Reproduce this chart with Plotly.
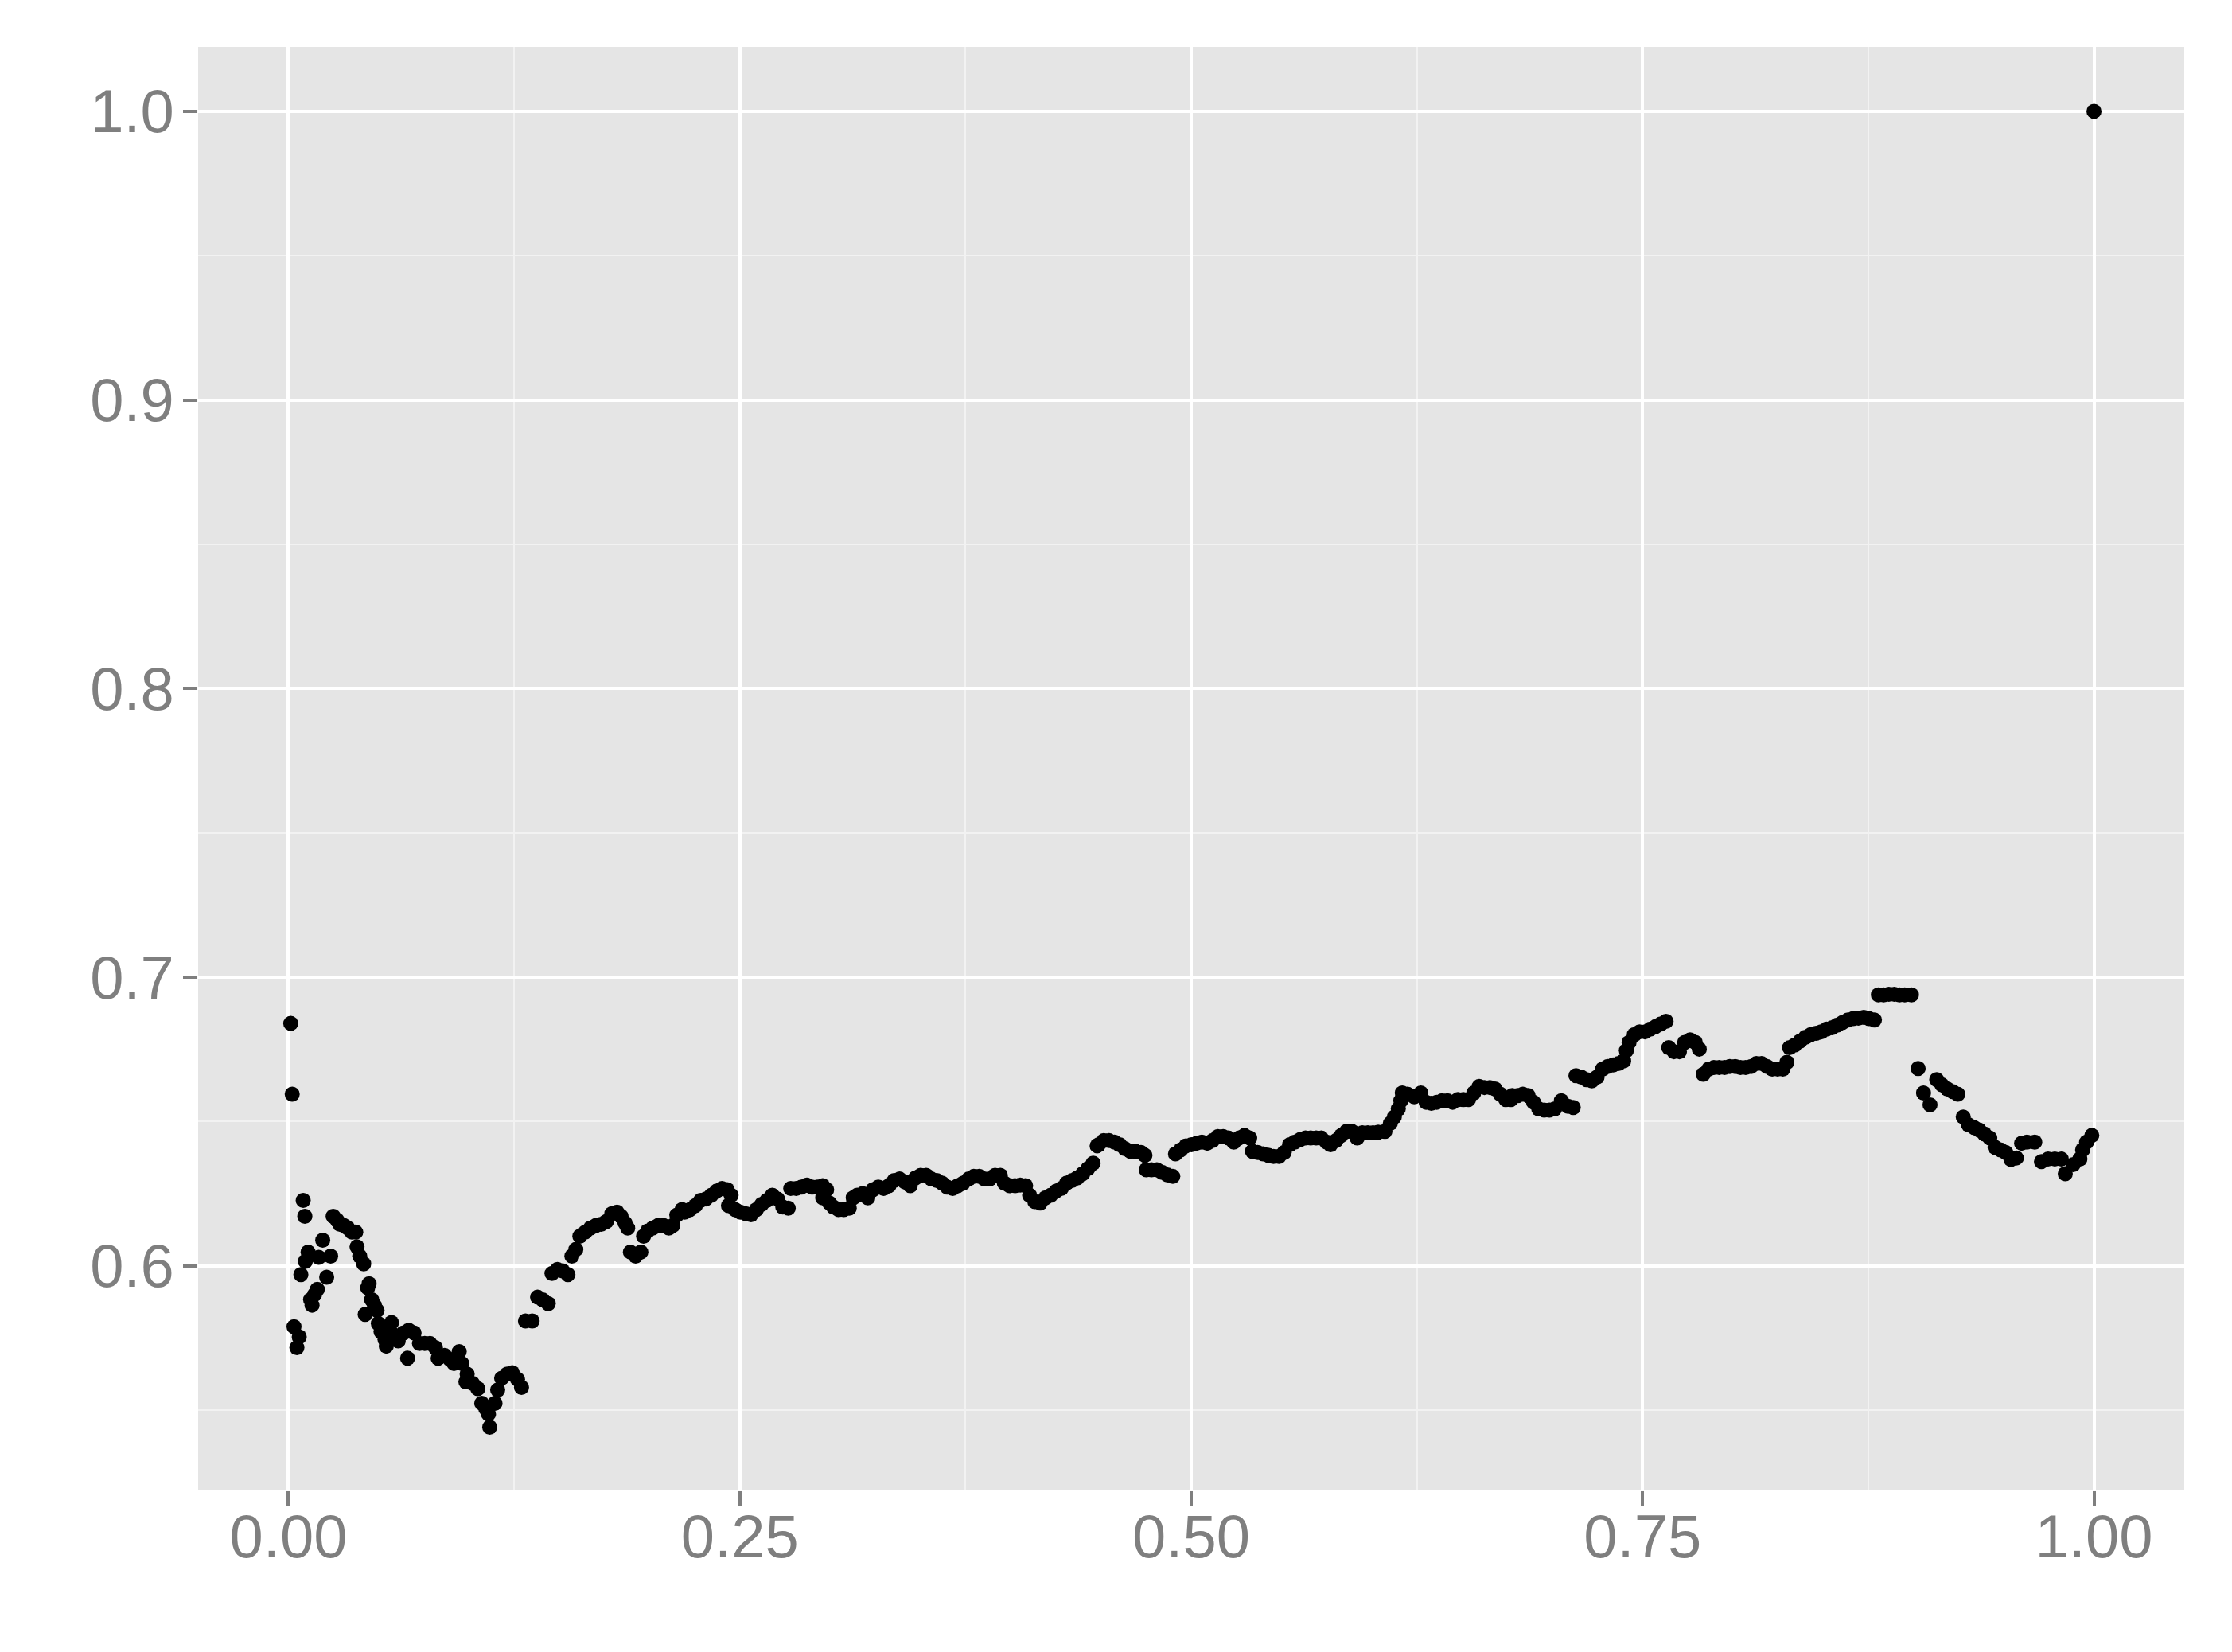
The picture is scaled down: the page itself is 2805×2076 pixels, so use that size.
import plotly.graph_objects as go

# values, left to right, one pair of lists per stretch
x_start = [
    0.0013, 0.0021, 0.0031, 0.0060, 0.0047, 0.0069, 0.0082, 0.0091, 0.0094, 0.0109,
    0.0123, 0.0131, 0.0145, 0.0160, 0.0168, 0.0190, 0.0212, 0.0234, 0.0248, 0.0270,
    0.0285, 0.0307, 0.0329, 0.0351, 0.0373, 0.0380, 0.0395, 0.0417, 0.0447, 0.0439,
    0.0461, 0.0476, 0.0491, 0.0425, 0.0498, 0.0513, 0.0535, 0.0542, 0.0571, 0.0579,
    0.0608, 0.0638, 0.0667, 0.0696, 0.0660, 0.0726, 0.0755, 0.0784, 0.0814, 0.0829,
    0.0865, 0.0895, 0.0917, 0.0946, 0.0961, 0.0990, 0.0983, 0.1020, 0.1049, 0.1071,
    0.1093, 0.1108, 0.1115, 0.1144, 0.1159, 0.1181, 0.1211, 0.1240, 0.1269, 0.1291,
    0.1313, 0.1350, 0.1380, 0.1409, 0.1439, 0.1460, 0.1490, 0.1519, 0.1548, 0.1570,
    0.1592, 0.1614, 0.1644, 0.1673, 0.1703, 0.1732, 0.1761, 0.1791, 0.1820, 0.1842,
    0.1864, 0.1879, 0.1894, 0.1923, 0.1952, 0.1967, 0.1989, 0.2018, 0.2048, 0.2077,
    0.2107, 0.2129, 0.2151, 0.2180,
]
y_start = [
    0.6840, 0.6595, 0.5789, 0.5754, 0.5717, 0.5970, 0.6227, 0.6172, 0.6016, 0.6048,
    0.5883, 0.5864, 0.5901, 0.5919, 0.6030, 0.6089, 0.5961, 0.6034, 0.6172, 0.6158,
    0.6144, 0.6140, 0.6131, 0.6117, 0.6117, 0.6066, 0.6034, 0.6007, 0.5938, 0.5924,
    0.5883, 0.5864, 0.5846, 0.5832, 0.5800, 0.5772, 0.5745, 0.5722, 0.5804, 0.5763,
    0.5740, 0.5768, 0.5777, 0.5768, 0.5680, 0.5731, 0.5731, 0.5731, 0.5717, 0.5680,
    0.5690, 0.5676, 0.5662, 0.5703, 0.5662, 0.5625, 0.5598, 0.5593, 0.5575, 0.5524,
    0.5506, 0.5487, 0.5441, 0.5524, 0.5570, 0.5611, 0.5625, 0.5630, 0.5607, 0.5579,
    0.5809, 0.5809, 0.5892, 0.5882, 0.5869, 0.5974, 0.5988, 0.5983, 0.5970, 0.6034,
    0.6057, 0.6103, 0.6117, 0.6131, 0.6140, 0.6144, 0.6154, 0.6181, 0.6186, 0.6172,
    0.6149, 0.6131, 0.6048, 0.6034, 0.6048, 0.6103, 0.6121, 0.6131, 0.6140, 0.6140,
    0.6131, 0.6140, 0.6176, 0.6195,
]

x_second = [
    0.2195, 0.2224, 0.2254, 0.2283, 0.2312, 0.2342, 0.2371, 0.2401, 0.2430, 0.2452,
    0.2437, 0.2474, 0.2503, 0.2533, 0.2562, 0.2592, 0.2621, 0.2650, 0.2680, 0.2709,
    0.2738, 0.2768, 0.2782, 0.2812, 0.2841, 0.2871, 0.2900, 0.2929, 0.2959, 0.2981,
    0.2959, 0.2996, 0.3018, 0.3047, 0.3076, 0.3106, 0.3128, 0.3150, 0.3180, 0.3209,
    0.3238, 0.3267, 0.3297, 0.3326, 0.3355, 0.3385, 0.3414, 0.3444, 0.3473, 0.3502,
    0.3532, 0.3561, 0.3591, 0.3620, 0.3649, 0.3679, 0.3708, 0.3737, 0.3767, 0.3796,
    0.3826, 0.3855, 0.3884, 0.3914, 0.3943, 0.3965, 0.3994, 0.4024, 0.4053, 0.4083,
    0.4105, 0.4134, 0.4164, 0.4193, 0.4222, 0.4252, 0.4281, 0.4310, 0.4340, 0.4369,
    0.4399, 0.4428, 0.4457, 0.4479,
]
y_second = [
    0.6186, 0.6195, 0.6209, 0.6227, 0.6232, 0.6245, 0.6259, 0.6268, 0.6264, 0.6245,
    0.6209, 0.6195, 0.6186, 0.6181, 0.6177, 0.6195, 0.6213, 0.6227, 0.6245, 0.6232,
    0.6204, 0.6200, 0.6268, 0.6268, 0.6273, 0.6280, 0.6273, 0.6273, 0.6278, 0.6264,
    0.6236, 0.6218, 0.6204, 0.6195, 0.6195, 0.6200, 0.6236, 0.6245, 0.6250, 0.6236,
    0.6264, 0.6273, 0.6268, 0.6278, 0.6296, 0.6301, 0.6291, 0.6278, 0.6305, 0.6314,
    0.6314, 0.6301, 0.6296, 0.6287, 0.6273, 0.6268, 0.6278, 0.6287, 0.6301, 0.6310,
    0.6310, 0.6301, 0.6301, 0.6314, 0.6314, 0.6287, 0.6278, 0.6278, 0.6280, 0.6278,
    0.6245, 0.6223, 0.6218, 0.6236, 0.6245, 0.6259, 0.6268, 0.6287, 0.6296, 0.6305,
    0.6319, 0.6337, 0.6356, 0.6416,
]

x_third = [
    0.4487, 0.4516, 0.4545, 0.4575, 0.4604, 0.4633, 0.4663, 0.4692, 0.4722, 0.4744,
    0.4751, 0.4780, 0.4810, 0.4839, 0.4869, 0.4898, 0.4913, 0.4942, 0.4971, 0.5001,
    0.5030, 0.5059, 0.5089, 0.5118, 0.5148, 0.5177, 0.5206, 0.5236, 0.5265, 0.5295,
    0.5324, 0.5339, 0.5368, 0.5398, 0.5427, 0.5456, 0.5486, 0.5515, 0.5545, 0.5574,
    0.5604, 0.5633, 0.5662, 0.5692, 0.5721, 0.5750, 0.5772, 0.5802, 0.5831, 0.5860,
    0.5890, 0.5919, 0.5948, 0.5978, 0.6007, 0.6036, 0.6073, 0.6103, 0.6125, 0.6147,
    0.6161, 0.6169, 0.6198, 0.6235, 0.6272, 0.6301, 0.6330, 0.6360, 0.6389, 0.6419,
    0.6448, 0.6477, 0.6507, 0.6536, 0.6565, 0.6595, 0.6624, 0.6654, 0.6683, 0.6712,
    0.6742, 0.6771,
]
y_third = [
    0.6420, 0.6434, 0.6434, 0.6429, 0.6420, 0.6406, 0.6397, 0.6397, 0.6393, 0.6383,
    0.6333, 0.6333, 0.6333, 0.6324, 0.6315, 0.6310, 0.6388, 0.6402, 0.6416, 0.6420,
    0.6425, 0.6429, 0.6425, 0.6434, 0.6448, 0.6448, 0.6443, 0.6429, 0.6443, 0.6452,
    0.6443, 0.6397, 0.6393, 0.6388, 0.6383, 0.6379, 0.6379, 0.6393, 0.6420, 0.6429,
    0.6438, 0.6443, 0.6443, 0.6443, 0.6443, 0.6429, 0.6420, 0.6434, 0.6452, 0.6466,
    0.6466, 0.6443, 0.6461, 0.6461, 0.6461, 0.6463, 0.6466, 0.6494, 0.6516, 0.6544,
    0.6572, 0.6599, 0.6595, 0.6586, 0.6599, 0.6567, 0.6563, 0.6567, 0.6572, 0.6572,
    0.6567, 0.6576, 0.6576, 0.6576, 0.6599, 0.6622, 0.6618, 0.6618, 0.6613, 0.6595,
    0.6576, 0.6576,
]

x_fourth = [
    0.6778, 0.6808, 0.6837, 0.6866, 0.6896, 0.6925, 0.6955, 0.6984, 0.7013, 0.7050,
    0.7087, 0.7116, 0.7131, 0.7160, 0.7190, 0.7219, 0.7248, 0.7278, 0.7307, 0.7337,
    0.7366, 0.7395, 0.7410, 0.7425, 0.7454, 0.7483, 0.7513, 0.7542, 0.7572, 0.7601,
    0.7630, 0.7645, 0.7674, 0.7704, 0.7733, 0.7763, 0.7792, 0.7814, 0.7836, 0.7866,
    0.7895, 0.7924, 0.7954, 0.7983, 0.8013, 0.8042, 0.8071, 0.8101, 0.8130, 0.8159,
    0.8189, 0.8218, 0.8248, 0.8277, 0.8299, 0.8314, 0.8343, 0.8373, 0.8402, 0.8431,
    0.8461, 0.8490, 0.8519, 0.8549, 0.8578, 0.8607, 0.8637, 0.8666, 0.8695, 0.8725,
    0.8754, 0.8784, 0.8806, 0.8835, 0.8864, 0.8894, 0.8923, 0.8952, 0.8989,
]
y_fourth = [
    0.6590, 0.6590, 0.6595, 0.6590, 0.6567, 0.6544, 0.6540, 0.6540, 0.6544, 0.6572,
    0.6553, 0.6549, 0.6659, 0.6654, 0.6645, 0.6641, 0.6654, 0.6682, 0.6691, 0.6696,
    0.6701, 0.6710, 0.6746, 0.6774, 0.6801, 0.6811, 0.6811, 0.6820, 0.6829, 0.6838,
    0.6847, 0.6756, 0.6742, 0.6742, 0.6774, 0.6783, 0.6774, 0.6751, 0.6664, 0.6682,
    0.6687, 0.6687, 0.6687, 0.6691, 0.6691, 0.6687, 0.6687, 0.6691, 0.6701, 0.6701,
    0.6691, 0.6682, 0.6682, 0.6682, 0.6705, 0.6756, 0.6765, 0.6779, 0.6792, 0.6801,
    0.6806, 0.6811, 0.6820, 0.6825, 0.6834, 0.6843, 0.6852, 0.6857, 0.6858, 0.6861,
    0.6857, 0.6852, 0.6939, 0.6939, 0.6941, 0.6941, 0.6939, 0.6939, 0.6939,
]

x_end = [
    0.9026, 0.9056, 0.9092, 0.9129, 0.9158, 0.9188, 0.9217, 0.9246, 0.9276, 0.9305,
    0.9335, 0.9364, 0.9393, 0.9423, 0.9452, 0.9482, 0.9511, 0.9540, 0.9570, 0.9599,
    0.9629, 0.9672, 0.9709, 0.9746, 0.9783, 0.9819, 0.9841, 0.9885, 0.9922, 0.9937,
    0.9959, 0.9988, 1.0000,
]
y_end = [
    0.6684, 0.6599, 0.6558, 0.6645, 0.6627, 0.6613, 0.6604, 0.6595, 0.6516, 0.6489,
    0.6480, 0.6471, 0.6457, 0.6443, 0.6411, 0.6402, 0.6393, 0.6369, 0.6374, 0.6425,
    0.6429, 0.6429, 0.6361, 0.6370, 0.6370, 0.6370, 0.6319, 0.6351, 0.6370, 0.6402,
    0.6429, 0.6452, 1.0000,
]

x_ticks = [0.0, 0.25, 0.5, 0.75, 1.0]
x_labels = ["0.00", "0.25", "0.50", "0.75", "1.00"]
y_ticks = [0.6, 0.7, 0.8, 0.9, 1.0]
y_labels = ["0.6", "0.7", "0.8", "0.9", "1.0"]

x_vals = x_start + x_second + x_third + x_fourth + x_end
y_vals = y_start + y_second + y_third + y_fourth + y_end

fig = go.Figure()
fig.add_trace(go.Scatter(
    x=x_vals,
    y=y_vals,
    mode="markers",
    marker=dict(color="black", size=19, line=dict(width=0)),
    showlegend=False,
))

axis_style = dict(
    showline=False,
    zeroline=False,
    gridcolor="white",
    gridwidth=4,
    ticks="outside",
    ticklen=18,
    tickwidth=4,
    tickcolor="#7F7F7F",
    tickfont=dict(family="Arial, Liberation Sans", size=76, color="#7F7F7F"),
)

fig.update_xaxes(
    range=[-0.05, 1.05],
    tickvals=x_ticks,
    ticktext=x_labels,
    minor=dict(tickvals=[0.125, 0.375, 0.625, 0.875], showgrid=True,
               gridcolor="#F2F2F2", gridwidth=2, ticks=""),
    ticklabelstandoff=-26,
    **axis_style,
)
fig.update_yaxes(
    range=[0.5222, 1.0223],
    tickvals=y_ticks,
    ticktext=y_labels,
    minor=dict(tickvals=[0.55, 0.65, 0.75, 0.85, 0.95], showgrid=True,
               gridcolor="#F2F2F2", gridwidth=2, ticks=""),
    ticklabelstandoff=-4,
    **axis_style,
)

# the page body adds an 8px margin, so the figure is trimmed by that much
fig.update_layout(
    width=2797,
    height=2068,
    autosize=False,
    margin=dict(l=241, r=60, t=51, b=203),
    plot_bgcolor="#E5E5E5",
    paper_bgcolor="white",
)

fig.write_html("out.html")
